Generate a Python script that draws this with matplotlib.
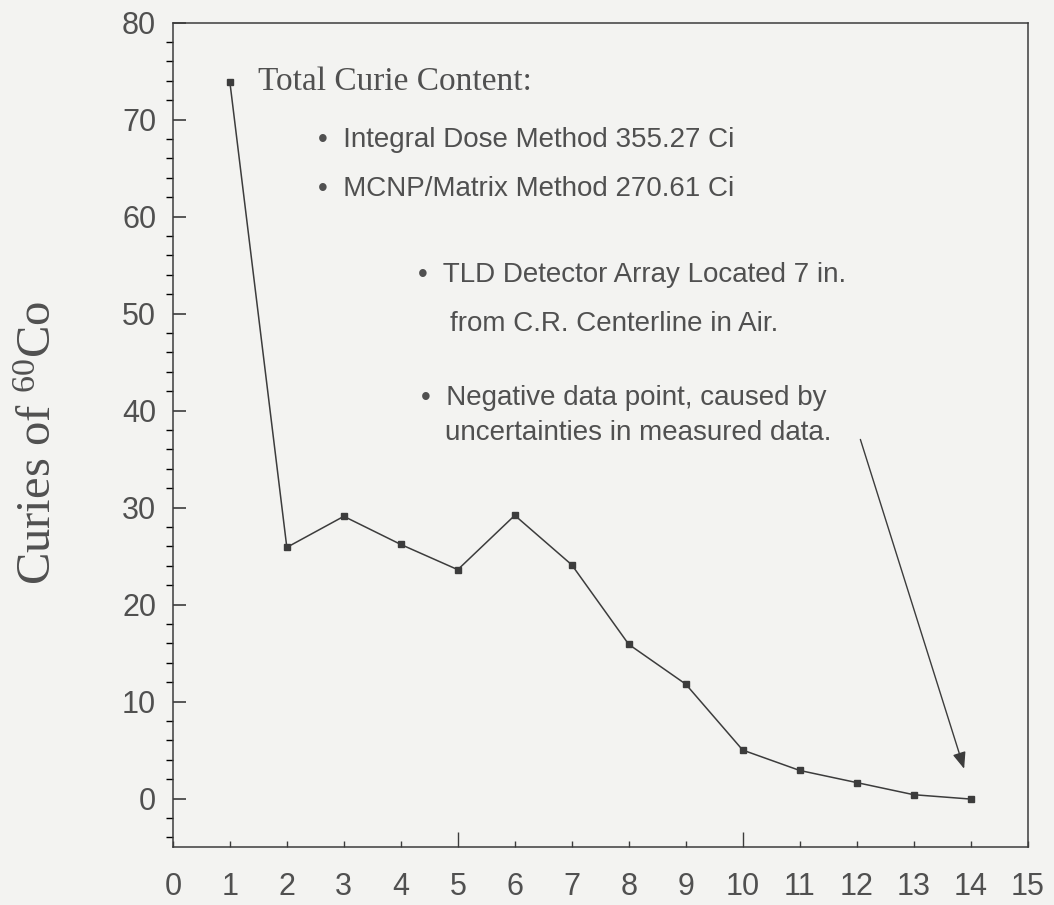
import matplotlib.pyplot as plt
from matplotlib.ticker import MultipleLocator

plt.rcParams['mathtext.fontset'] = 'custom'
plt.rcParams['mathtext.rm'] = 'Liberation Serif'
plt.rcParams['mathtext.it'] = 'Liberation Serif'

position = [1, 2, 3, 4, 5, 6, 7, 8, 9, 10, 11, 12, 13, 14]
curies = [73.9, 25.9, 29.1, 26.2, 23.6, 29.2, 24.1, 15.9, 11.8, 5.0, 2.9, 1.65, 0.4, -0.05]

ink = '#3c3c3c'
txt = '#505050'
bg = '#f3f3f1'

fig = plt.figure(figsize=(10.54, 9.05), dpi=100, facecolor=bg)
ax = fig.add_axes([0.164, 0.064, 0.811, 0.911], facecolor=bg)

ax.plot(position, curies, color=ink, linewidth=1.1, marker='s', markersize=4.5,
        markerfacecolor=ink, markeredgecolor=ink)

ax.set_xlim(0, 15)
ax.set_ylim(-5, 80)
ax.set_xticks(range(0, 16))
ax.yaxis.set_major_locator(MultipleLocator(10))
ax.yaxis.set_minor_locator(MultipleLocator(2))

ax.tick_params(axis='both', direction='in', colors=ink, labelcolor=txt, labelsize=22)
ax.tick_params(axis='y', which='major', length=9, width=1.2, pad=12)
ax.tick_params(axis='y', which='minor', length=5, width=1.0)
ax.tick_params(axis='x', which='major', length=4, width=1.0, pad=18)
for t in ax.get_xticklabels() + ax.get_yticklabels():
    t.set_family('Liberation Sans')
# longer ticks at 5 and 10
for i in (5, 10):
    ax.xaxis.get_major_ticks()[i].tick1line.set_markersize(11)

for s in ax.spines.values():
    s.set_color(ink)
    s.set_linewidth(1.1)

ax.set_ylabel(r'Curies of $^{60}$Co', family='Liberation Serif', fontsize=35,
              color=txt)
ax.yaxis.set_label_coords(-0.131, 0.49)

ax.text(1.5, 73.9, 'Total Curie Content:', family='Liberation Serif', fontsize=24,
        color=txt, va='center')
note = dict(family='Liberation Sans', fontsize=20, color=txt, va='center')
ax.text(2.55, 67.9, '\u2022  Integral Dose Method 355.27 Ci', **note)
ax.text(2.55, 62.8, '\u2022  MCNP/Matrix Method 270.61 Ci', **note)
ax.text(4.3, 54.0, '\u2022  TLD Detector Array Located 7 in.', **note)
ax.text(4.86, 48.9, 'from C.R. Centerline in Air.', **note)
ax.text(4.35, 41.3, '\u2022  Negative data point, caused by', **note)
ax.text(4.78, 37.7, 'uncertainties in measured data.', **note)

ax.annotate('', xy=(13.9, 2.8), xytext=(12.05, 37.3),
            arrowprops=dict(arrowstyle='-|>,head_length=1.0,head_width=0.4',
                            color=ink, linewidth=1.0))

plt.savefig('out.png', dpi=100, facecolor=bg)
